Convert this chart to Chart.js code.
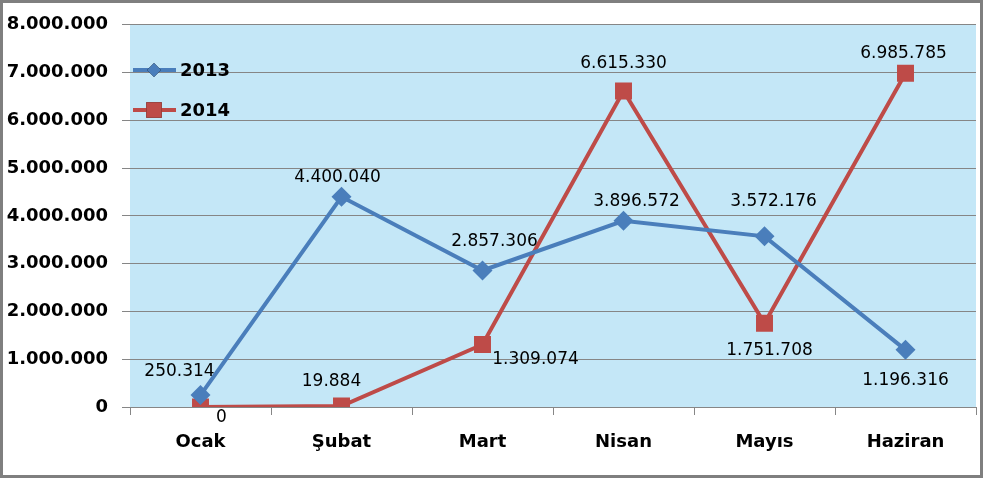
<!DOCTYPE html>
<html>
<head>
<meta charset="utf-8">
<script src="https://cdn.jsdelivr.net/npm/chart.js@4.4.0/dist/chart.umd.min.js"></script>
<style>
    html, body { margin: 0; padding: 0; background: #ffffff; }
    #chart { display: block; }
</style>
</head>
<body>
<canvas id="chart" width="983" height="478"></canvas>
<script>
// Chart data
const months = ['Ocak', 'Şubat', 'Mart', 'Nisan', 'Mayıs', 'Haziran'];
const values2013 = [250314, 4400040, 2857306, 3896572, 3572176, 1196316];
const values2014 = [0, 19884, 1309074, 6615330, 1751708, 6985785];
const yTicks = [0, 1000000, 2000000, 3000000, 4000000, 5000000, 6000000, 7000000, 8000000];

// Label offsets from each point (text centre)
const labelOffsets2013 = [[-21, -23], [-4, -19], [12, -29], [13, -19], [9, -35], [0, 31]];
const labelOffsets2014 = [[21, 11], [-10, -24], [53, 15], [0, -27], [5, 27], [-2, -20]];

const BLUE = '#4a7ebb';
const RED = '#be4b48';
const FONT = '"DejaVu Sans", sans-serif';

// Turkish thousands separator
function formatNumber(v) {
    return String(v).replace(/\B(?=(\d{3})+(?!\d))/g, '.');
}

// Fill plot area and draw the outer frame
const backgroundPlugin = {
    id: 'plotBackground',
    beforeDraw(chart) {
        const { ctx, chartArea } = chart;
        ctx.save();
        ctx.fillStyle = '#c4e7f7';
        ctx.fillRect(chartArea.left, chartArea.top, chartArea.right - chartArea.left, chartArea.bottom - chartArea.top);
        ctx.restore();
    },
    afterDraw(chart) {
        const ctx = chart.ctx;
        ctx.save();
        ctx.strokeStyle = '#7f7f7f';
        ctx.lineWidth = 3;
        ctx.strokeRect(1.5, 1.5, chart.width - 3, chart.height - 3);
        ctx.restore();
    }
};

// Value labels next to points
const valueLabelsPlugin = {
    id: 'valueLabels',
    afterDatasetsDraw(chart) {
        const ctx = chart.ctx;
        const offsets = [labelOffsets2013, labelOffsets2014];
        ctx.save();
        ctx.font = '17px ' + FONT;
        ctx.fillStyle = '#000000';
        ctx.textAlign = 'center';
        ctx.textBaseline = 'middle';
        chart.data.datasets.forEach((ds, i) => {
            chart.getDatasetMeta(i).data.forEach((pt, j) => {
                const off = offsets[i][j];
                ctx.fillText(formatNumber(ds.data[j]), pt.x + off[0], pt.y + off[1]);
            });
        });
        ctx.restore();
    }
};

// Legend drawn inside the plot area, top left
const insideLegendPlugin = {
    id: 'insideLegend',
    afterDatasetsDraw(chart) {
        const ctx = chart.ctx;
        const left = chart.chartArea.left;
        const rows = [70, 110];
        ctx.save();
        chart.data.datasets.forEach((ds, i) => {
            const y = rows[i];
            ctx.strokeStyle = ds.borderColor;
            ctx.lineWidth = 4;
            ctx.beginPath();
            ctx.moveTo(left + 3, y);
            ctx.lineTo(left + 46, y);
            ctx.stroke();
            Chart.helpers.drawPoint(ctx, {
                pointStyle: ds.pointStyle,
                radius: i === 0 ? 7 : 11,
                borderWidth: 0
            }, left + 24, y);
            ctx.fillStyle = ds.backgroundColor;
            ctx.fill();
            ctx.fillStyle = '#000000';
            ctx.font = 'bold 18px ' + FONT;
            ctx.textAlign = 'left';
            ctx.textBaseline = 'middle';
            ctx.fillText(ds.label, left + 50, y + 1);
        });
        ctx.restore();
    }
};

const ctx = document.getElementById('chart').getContext('2d');
new Chart(ctx, {
    type: 'line',
    data: {
        labels: months,
        datasets: [
            {
                label: '2013',
                data: values2013,
                borderColor: BLUE,
                backgroundColor: BLUE,
                borderWidth: 4,
                pointStyle: 'rectRot',
                pointRadius: 10,
                pointBorderWidth: 0,
                tension: 0
            },
            {
                label: '2014',
                data: values2014,
                borderColor: RED,
                backgroundColor: RED,
                borderWidth: 4,
                pointStyle: 'rect',
                pointRadius: 12,
                pointBorderWidth: 0,
                tension: 0
            }
        ]
    },
    options: {
        responsive: false,
        animation: false,
        layout: {
            autoPadding: false,
            padding: { top: 24, right: 7, bottom: 0, left: 0 }
        },
        plugins: {
            legend: { display: false },
            tooltip: { enabled: false }
        },
        scales: {
            x: {
                offset: true,
                grid: {
                    offset: true,
                    drawOnChartArea: false,
                    drawTicks: true,
                    tickLength: 8,
                    color: '#868686'
                },
                border: { display: false },
                ticks: {
                    color: '#000000',
                    font: { family: FONT, size: 18, weight: 'bold' },
                    padding: 17
                },
                afterFit(scale) {
                    scale.height = 71;
                }
            },
            y: {
                min: 0,
                max: 8000000,
                afterBuildTicks(scale) {
                    scale.ticks = yTicks.map(v => ({ value: v }));
                },
                grid: {
                    color: '#868686',
                    lineWidth: 1,
                    tickLength: 8
                },
                border: { display: false },
                ticks: {
                    color: '#000000',
                    font: { family: FONT, size: 18, weight: 'bold' },
                    padding: 14,
                    callback: v => formatNumber(v)
                },
                afterFit(scale) {
                    scale.width = 130;
                }
            }
        }
    },
    plugins: [backgroundPlugin, valueLabelsPlugin, insideLegendPlugin]
});
</script>
</body>
</html>
